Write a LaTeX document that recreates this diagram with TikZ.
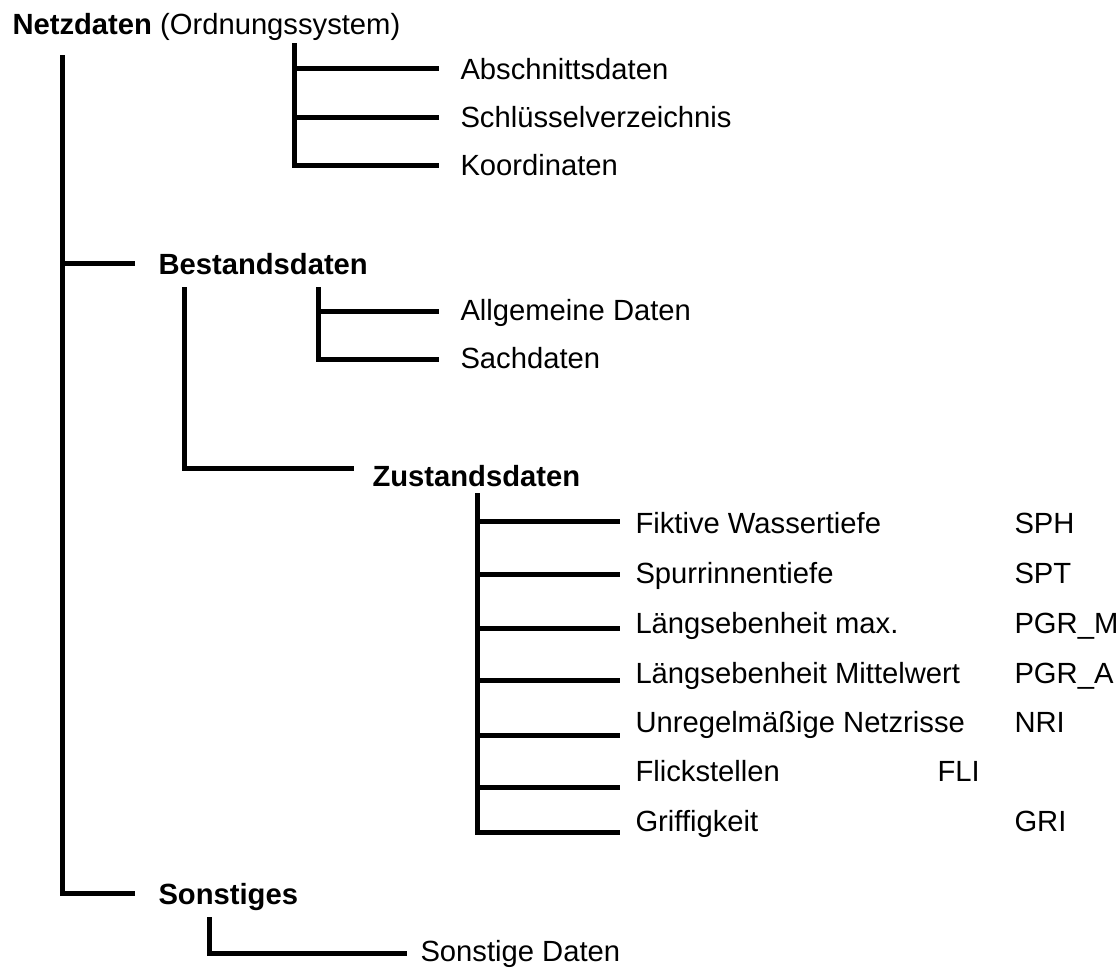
\documentclass[tikz,border=0pt]{standalone}
\usepackage{fontspec}
\setmainfont{Liberation Sans}
\usetikzlibrary{positioning}

\begin{document}
\begin{tikzpicture}[x=0.5pt,y=-0.5pt,line width=2.5pt,
  leaf/.style={anchor=base west,inner sep=0pt,font=\fontsize{14.6}{17}\selectfont},
  head/.style={leaf,font=\fontsize{14.6}{17}\selectfont\bfseries}]
  \useasboundingbox (0,0) rectangle (1120,970);

  \node (netz) [leaf] at (10,34) {\textbf{Netzdaten} (Ordnungssystem)};
  \node (abs) [leaf] at (458,79) {Abschnittsdaten};
  \node (sch) [leaf] at (458,127) {Schlüsselverzeichnis};
  \node (koo) [leaf] at (458,175) {Koordinaten};
  \node (best) [head] at (156,274) {Bestandsdaten};
  \node (allg) [leaf] at (458,320) {Allgemeine Daten};
  \node (sach) [leaf] at (458,368) {Sachdaten};
  \node (zust) [head] at (370,486) {Zustandsdaten};
  \node (fik) [leaf] at (633,533) {Fiktive Wassertiefe};
  \node (spur) [leaf] at (633,583) {Spurrinnentiefe};
  \node (lmax) [leaf] at (633,633) {Längsebenheit max.};
  \node (lmit) [leaf] at (633,683) {Längsebenheit Mittelwert};
  \node (unr) [leaf] at (633,732) {Unregelmäßige Netzrisse};
  \node (fli) [leaf] at (633,781) {Flickstellen};
  \node (gri) [leaf] at (633,831) {Griffigkeit};
  \node (c-sph) [leaf] at (1012,533) {SPH};
  \node (c-spt) [leaf] at (1012,583) {SPT};
  \node (c-pgrm) [leaf] at (1012,633) {PGR\_M};
  \node (c-pgra) [leaf] at (1012,683) {PGR\_A};
  \node (c-nri) [leaf] at (1012,732) {NRI};
  \node (c-fli) [leaf] at (935,781) {FLI};
  \node (c-gri) [leaf] at (1012,831) {GRI};
  \node (son) [head] at (156,904) {Sonstiges};
  \node (sdat) [leaf] at (418,961) {Sonstige Daten};

  % trunks and branch ends
  \coordinate (netz-t) at (62,55);
  \coordinate (best-e) at (135,263);
  \coordinate (son-e) at (135,893);
  \coordinate (ord-t) at (294,43);
  \coordinate (abs-e) at (439,68);
  \coordinate (sch-e) at (439,117);
  \coordinate (koo-e) at (439,165);
  \coordinate (allg-t) at (318,287);
  \coordinate (allg-e) at (439,311);
  \coordinate (sach-e) at (439,359);
  \coordinate (zust-t) at (184,287);
  \coordinate (zust-e) at (354,468);
  \coordinate (merk-t) at (477,493);
  \coordinate (fik-e) at (620,521);
  \coordinate (spur-e) at (620,574);
  \coordinate (lmax-e) at (620,628);
  \coordinate (lmit-e) at (620,680);
  \coordinate (unr-e) at (620,735);
  \coordinate (fli-e) at (620,787);
  \coordinate (gri-e) at (620,832);
  \coordinate (son-t) at (209,917);
  \coordinate (sdat-e) at (407,953);

  \draw (netz-t) |- (son-e);
  \draw (netz-t |- best-e) -- (best-e);
  \draw (ord-t) |- (koo-e);
  \draw (ord-t |- abs-e) -- (abs-e);
  \draw (ord-t |- sch-e) -- (sch-e);
  \draw (allg-t) |- (sach-e);
  \draw (allg-t |- allg-e) -- (allg-e);
  \draw (zust-t) |- (zust-e);
  \draw (merk-t) |- (gri-e);
  \draw (merk-t |- fik-e) -- (fik-e);
  \draw (merk-t |- spur-e) -- (spur-e);
  \draw (merk-t |- lmax-e) -- (lmax-e);
  \draw (merk-t |- lmit-e) -- (lmit-e);
  \draw (merk-t |- unr-e) -- (unr-e);
  \draw (merk-t |- fli-e) -- (fli-e);
  \draw (son-t) |- (sdat-e);
\end{tikzpicture}
\end{document}
